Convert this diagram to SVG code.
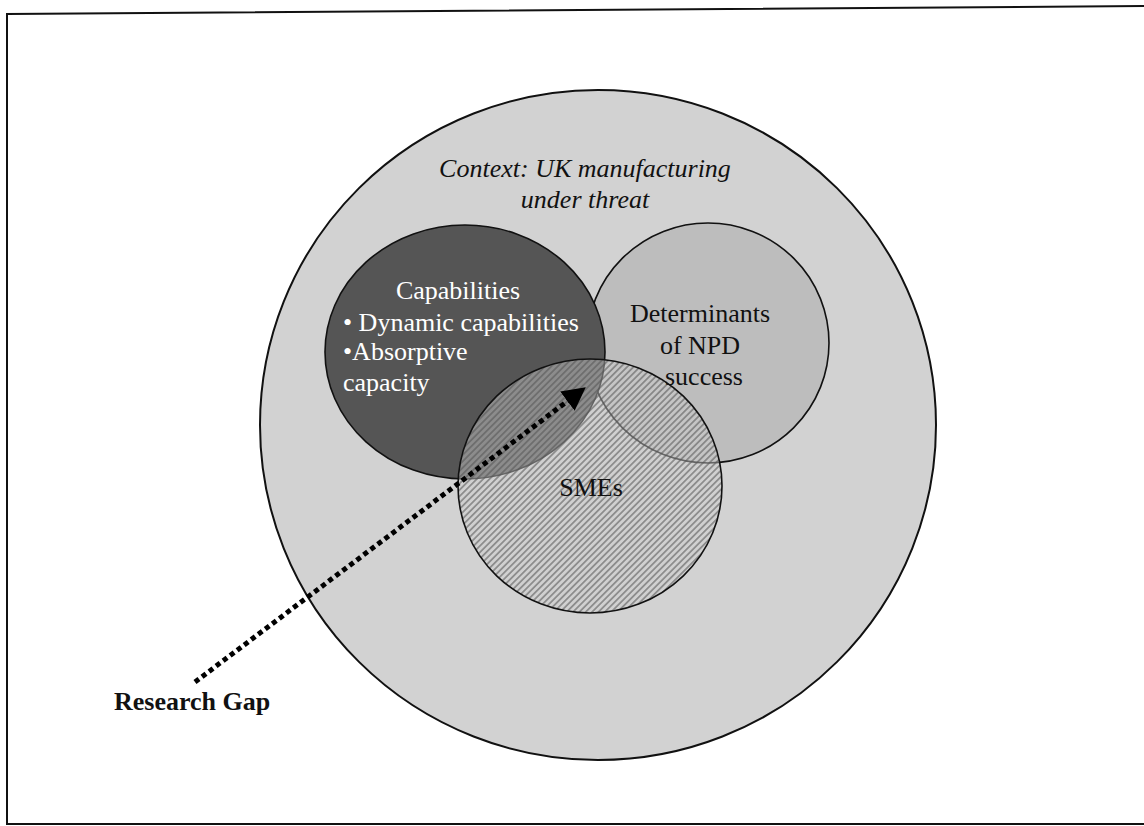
<svg xmlns="http://www.w3.org/2000/svg" width="1144" height="826" viewBox="0 0 1144 826">
  <style>
    .lbl { font-family: "Liberation Serif", "Times New Roman", serif; font-size: 26px; fill: #111; }
    .ctx { font-style: italic; }
    .light { fill: #ffffff; }
    .bold { font-weight: bold; }
    .ring { stroke: #111; stroke-width: 1.6; }
    .conn { fill: none; stroke: #000; stroke-width: 5; stroke-dasharray: 5 3.8; }
  </style>
  <defs>
    <pattern id="hatch" patternUnits="userSpaceOnUse" width="4.5" height="4.5" patternTransform="rotate(45)">
      <rect width="4.5" height="4.5" fill="#cfcfcf" fill-opacity="0.45"/>
      <rect width="1.8" height="4.5" fill="#555" fill-opacity="0.55"/>
    </pattern>
    <marker id="arrow" markerUnits="userSpaceOnUse" markerWidth="24" markerHeight="26" refX="2" refY="12" orient="auto">
      <path d="M0,0 L23,12 L0,24 z" fill="#000"/>
    </marker>
  </defs>

  <rect x="0" y="0" width="1144" height="826" fill="#ffffff"/>
  <path d="M1144,6 L7,14 L7,824 L1144,824" fill="none" stroke="#111" stroke-width="2"/>

  <g id="context">
    <ellipse cx="598" cy="425" rx="338" ry="335" fill="#d2d2d2" stroke="#111" stroke-width="2"/>
    <text class="lbl ctx" x="585" y="177" text-anchor="middle">Context: UK manufacturing</text>
    <text class="lbl ctx" x="585" y="208" text-anchor="middle">under threat</text>
  </g>

  <g id="determinants">
    <ellipse class="ring" cx="708" cy="343" rx="121" ry="120" fill="#bdbdbd"/>
  </g>

  <g id="capabilities">
    <ellipse class="ring" cx="465" cy="352" rx="140" ry="127" fill="#555555"/>
    <text class="lbl light" x="458" y="299" text-anchor="middle">Capabilities</text>
    <text class="lbl light" x="343" y="331">• Dynamic capabilities</text>
    <text class="lbl light" x="343" y="360">•Absorptive</text>
    <text class="lbl light" x="343" y="391">capacity</text>
  </g>

  <g id="smes">
    <ellipse class="ring" cx="590" cy="486" rx="132" ry="127" fill="url(#hatch)"/>
    <text class="lbl" x="591" y="496" text-anchor="middle">SMEs</text>
  </g>

  <g id="determinants-label">
    <text class="lbl" x="700" y="322" text-anchor="middle">Determinants</text>
    <text class="lbl" x="700" y="354" text-anchor="middle">of NPD</text>
    <text class="lbl" x="704" y="385" text-anchor="middle">success</text>
  </g>

  <g id="research-gap">
    <text class="lbl bold" x="114" y="710">Research Gap</text>
  </g>

  <g id="connectors">
    <path class="conn" d="M195,682 L569,400" marker-end="url(#arrow)"/>
  </g>
</svg>
